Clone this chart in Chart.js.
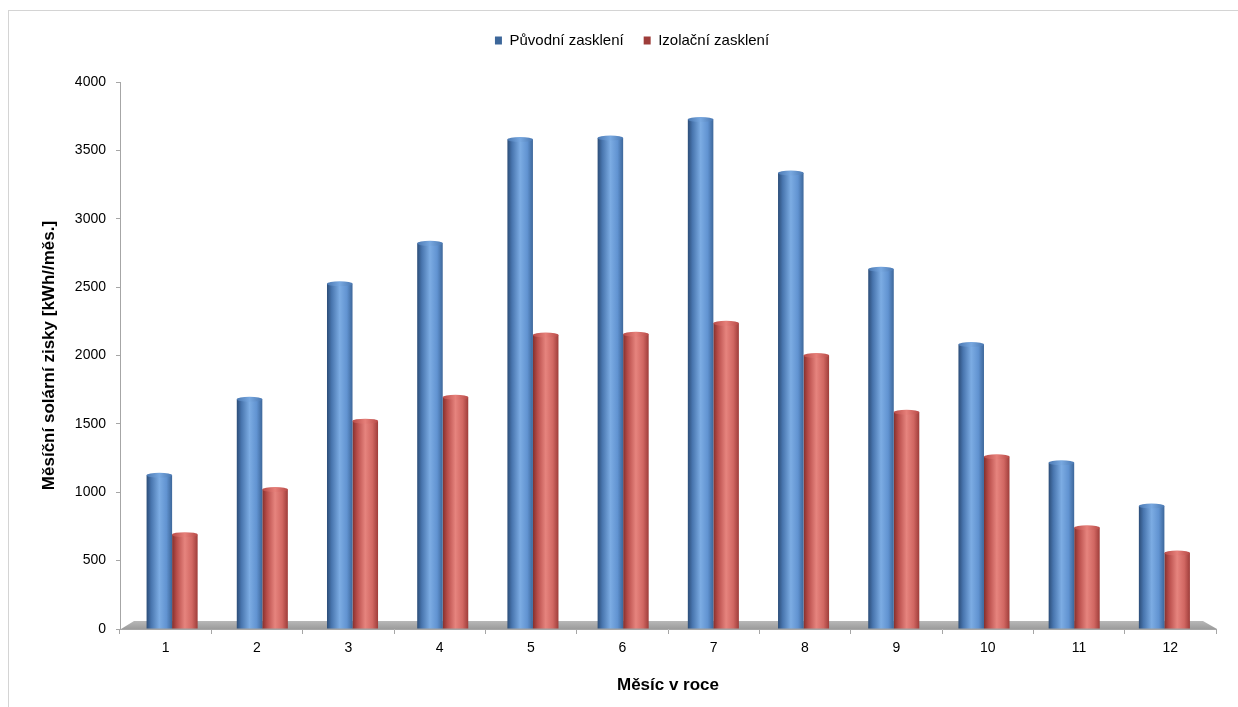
<!DOCTYPE html>
<html>
<head>
<meta charset="utf-8">
<script src="https://cdn.jsdelivr.net/npm/chart.js@4/dist/chart.umd.min.js"></script>
<style>
  html, body { margin: 0; padding: 0; background: #fff; }
  canvas { display: block; }
</style>
</head>
<body>
<canvas id="solarChart" width="1238" height="707"></canvas>
<script>
// data
const months = ['1', '2', '3', '4', '5', '6', '7', '8', '9', '10', '11', '12'];
const puvodni = [1125, 1680, 2525, 2820, 3580, 3590, 3725, 3335, 2630, 2080, 1215, 900];
const izolacni = [690, 1020, 1520, 1695, 2150, 2155, 2235, 2000, 1585, 1260, 740, 555];
const yTicks = [0, 500, 1000, 1500, 2000, 2500, 3000, 3500, 4000];

const CAT_PCT = 0.566;
// bars stand in the middle of the 3D floor, which is a bit narrower than the axis
const INSET_L = 7;
const INSET_R = 6.5;

const blueStops = ['#2c4d78', '#4875ae', '#7cace3', '#6193d1', '#3d679a'];
const redStops = ['#84302d', '#b84d4a', '#e6847e', '#d16762', '#9e3d3a'];

function toFloor(chart, x) {
    const a = chart.chartArea;
    const k = (a.right - a.left - INSET_L - INSET_R) / (a.right - a.left);
    return { x: a.left + INSET_L + (x - a.left) * k, k: k };
}

function cylinder(stops, solid) {
    return function (c) {
        const chart = c.chart;
        if (!chart.chartArea || c.type !== 'data') return solid;
        const xs = chart.scales.x;
        const m = toFloor(chart, xs.getPixelForValue(c.dataIndex));
        const w = xs.width / months.length * CAT_PCT / 2 * m.k;
        const left = m.x - w + c.datasetIndex * w;
        const g = chart.ctx.createLinearGradient(left, 0, left + w, 0);
        g.addColorStop(0, stops[0]);
        g.addColorStop(0.18, stops[1]);
        g.addColorStop(0.5, stops[2]);
        g.addColorStop(0.78, stops[3]);
        g.addColorStop(1, stops[4]);
        return g;
    };
}

// push legend down so the plot starts at the 4000 line
const legendGap = {
    id: 'legendGap',
    beforeInit(chart) {
        const fit = chart.legend.fit;
        chart.legend.fit = function () {
            fit.bind(chart.legend)();
            this.height = 69;
        };
    },
    afterLayout(chart) {
        chart.legend.left += 14;
        chart.legend.right += 14;
    }
};

// move bars onto the floor plane
const barShift = {
    id: 'barShift',
    afterDatasetsUpdate(chart) {
        chart.data.datasets.forEach((ds, i) => {
            chart.getDatasetMeta(i).data.forEach(el => {
                const m = toFloor(chart, el.x);
                el.x = m.x;
                el.width = el.width * m.k;
            });
        });
    }
};

// frame, gray floor and cylinder caps
const decor = {
    id: 'decor',
    beforeDraw(chart) {
        const ctx = chart.ctx;
        ctx.save();
        ctx.strokeStyle = '#d4d4d4';
        ctx.lineWidth = 1;
        ctx.strokeRect(8.5, 10.5, 1400, 900);
        ctx.restore();
    },
    beforeDatasetsDraw(chart) {
        const ctx = chart.ctx;
        const a = chart.chartArea;
        ctx.save();
        ctx.beginPath();
        ctx.moveTo(a.left + 1, a.bottom);
        ctx.lineTo(a.left + 2 * INSET_L, a.bottom - 8);
        ctx.lineTo(a.right - 2 * INSET_R, a.bottom - 8);
        ctx.lineTo(a.right + 1, a.bottom);
        ctx.closePath();
        const g = ctx.createLinearGradient(0, a.bottom - 8, 0, a.bottom);
        g.addColorStop(0, '#b8b8b8');
        g.addColorStop(1, '#9c9c9c');
        ctx.fillStyle = g;
        ctx.fill();
        ctx.restore();
    },
    afterDatasetsDraw(chart) {
        const ctx = chart.ctx;
        const caps = [['#78a8e0', '#4a78b2'], ['#e6807a', '#b84a47']];
        ctx.save();
        chart.data.datasets.forEach((ds, i) => {
            chart.getDatasetMeta(i).data.forEach(el => {
                const g = ctx.createLinearGradient(el.x - el.width / 2, 0, el.x + el.width / 2, 0);
                g.addColorStop(0, caps[i][1]);
                g.addColorStop(0.5, caps[i][0]);
                g.addColorStop(1, caps[i][1]);
                ctx.fillStyle = g;
                ctx.beginPath();
                ctx.ellipse(el.x, el.y, el.width / 2, 2.5, 0, 0, Math.PI * 2);
                ctx.fill();
            });
        });
        ctx.restore();
    }
};

const FONT = 'Liberation Sans, Arial, sans-serif';

new Chart(document.getElementById('solarChart'), {
    type: 'bar',
    data: {
        labels: months,
        datasets: [
            {
                label: 'Původní zasklení',
                data: puvodni,
                backgroundColor: cylinder(blueStops, '#5584c0'),
                borderWidth: 0,
                categoryPercentage: CAT_PCT,
                barPercentage: 1
            },
            {
                label: 'Izolační zasklení',
                data: izolacni,
                backgroundColor: cylinder(redStops, '#cc5a56'),
                borderWidth: 0,
                categoryPercentage: CAT_PCT,
                barPercentage: 1
            }
        ]
    },
    options: {
        responsive: false,
        animation: false,
        layout: { padding: { left: 20, right: 22, top: 13, bottom: 0 } },
        plugins: {
            tooltip: { enabled: false },
            legend: {
                position: 'top',
                labels: {
                    boxWidth: 7,
                    boxHeight: 8,
                    padding: 20,
                    color: '#000',
                    font: { family: FONT, size: 15 }
                }
            }
        },
        scales: {
            x: {
                afterFit(scale) { scale.height = 78; },
                grid: { offset: true, drawOnChartArea: false, tickLength: 5, color: '#a6a6a6' },
                border: { display: true, color: '#a6a6a6' },
                ticks: {
                    padding: 6,
                    color: '#000',
                    font: { family: FONT, size: 14 }
                },
                title: {
                    display: true,
                    text: 'Měsíc v roce',
                    color: '#000',
                    padding: { top: 0, bottom: 11 },
                    font: { family: FONT, size: 17, weight: 'bold' }
                }
            },
            y: {
                min: 0,
                max: 4000,
                afterFit(scale) { scale.width = 100; },
                afterBuildTicks(scale) { scale.ticks = yTicks.map(v => ({ value: v })); },
                grid: { drawOnChartArea: false, tickLength: 4, color: '#a6a6a6' },
                border: { display: true, color: '#a6a6a6' },
                ticks: {
                    padding: 10,
                    color: '#000',
                    font: { family: FONT, size: 14 },
                    callback: v => String(v)
                },
                title: {
                    display: true,
                    text: 'Měsíční solární zisky [kWh//měs.]',
                    color: '#000',
                    padding: { top: 19, bottom: 0 },
                    font: { family: FONT, size: 17, weight: 'bold' }
                }
            }
        }
    },
    plugins: [legendGap, barShift, decor]
});
</script>
</body>
</html>
